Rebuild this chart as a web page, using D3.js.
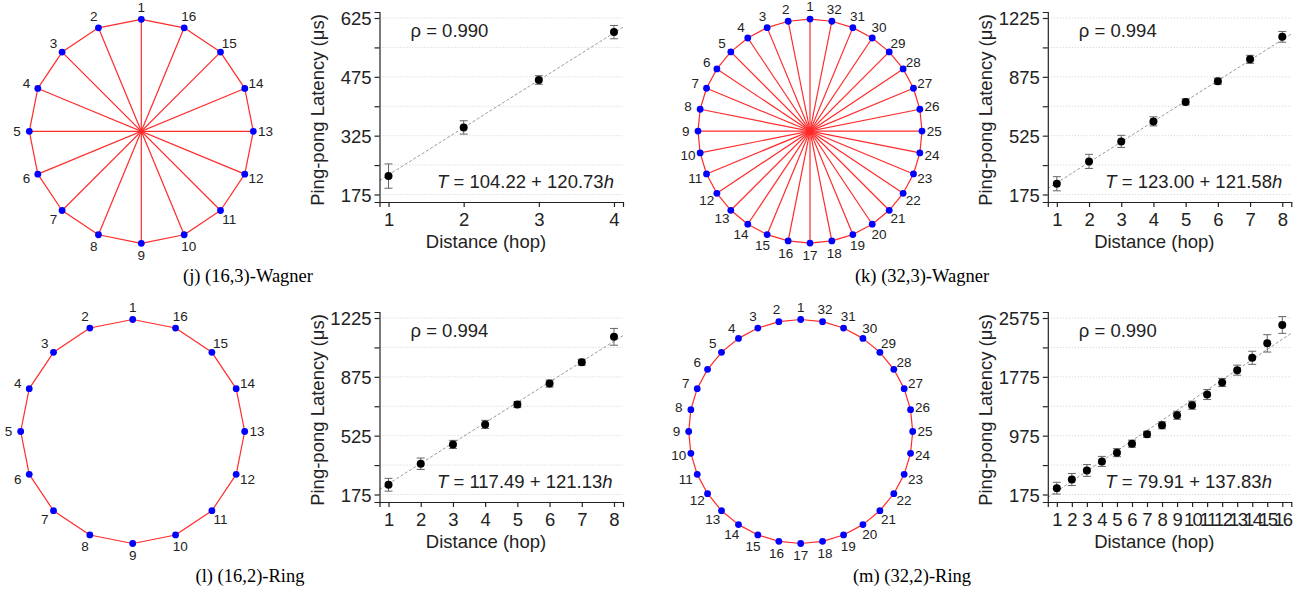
<!DOCTYPE html>
<html>
<head>
<meta charset="utf-8">
<script src="https://cdn.jsdelivr.net/npm/d3@7"></script>
<style>
body { margin: 0; background: #fff; }
svg { display: block; background: #fff; }
text { font-family: "Liberation Sans", Arial, sans-serif; fill: #222; }
.caption { font-family: "Liberation Serif", "Times New Roman", serif; fill: #000; }
</style>
</head>
<body>
<svg id="chart" width="1307" height="594"></svg>
<script>
// topology drawings: number of nodes and chord offset (0 means a plain ring)
const graphNodes = [16, 32, 16, 32];
const graphChord = [8, 16, 0, 0];

// ping-pong latency vs hop distance
const hopsJ = [1, 2, 3, 4];
const latJ = [222, 346, 467, 589];
const errJ = [31, 17, 11, 17];

const hopsK = [1, 2, 3, 4, 5, 6, 7, 8];
const latK = [239, 372, 491, 610, 726, 849, 979, 1113];
const errK = [42, 42, 36, 27, 18, 18, 24, 32];

const hopsL = [1, 2, 3, 4, 5, 6, 7, 8];
const latL = [233, 358, 473, 592, 710, 835, 962, 1113];
const errL = [38, 34, 24, 24, 18, 21, 18, 50];

const hopsM = [1, 2, 3, 4, 5, 6, 7, 8, 9, 10, 11, 12, 13, 14, 15, 16];
const latM = [261, 379, 502, 625, 744, 866, 993, 1116, 1252, 1389, 1534, 1698, 1866, 2034, 2230, 2480];
const errM = [80, 82, 80, 68, 55, 48, 41, 48, 55, 55, 68, 55, 68, 89, 118, 114];

const yTicksJ = [175, 250, 325, 400, 475, 550, 625];
const yTicksK = [175, 350, 525, 700, 875, 1050, 1225];
const yTicksL = [175, 350, 525, 700, 875, 1050, 1225];
const yTicksM = [175, 575, 975, 1375, 1775, 2175, 2575];

const rhoText = ["0.990", "0.994", "0.994", "0.990"];
const fitA = [104.22, 123.00, 117.49, 79.91];
const fitB = [120.73, 121.58, 121.13, 137.83];
const captions = ["(j) (16,3)-Wagner", "(k) (32,3)-Wagner", "(l) (16,2)-Ring", "(m) (32,2)-Ring"];

const series = [
  {hops: hopsJ, lat: latJ, err: errJ, ticks: yTicksJ},
  {hops: hopsK, lat: latK, err: errK, ticks: yTicksK},
  {hops: hopsL, lat: latL, err: errL, ticks: yTicksL},
  {hops: hopsM, lat: latM, err: errM, ticks: yTicksM}
];

// layout
const graphCenter = [[141.3, 131.3], [810, 131.1], [132.7, 431.5], [800.7, 431.5]];
const graphR = 112;
const plotX0 = [379.5, 1047.8];
const plotW = 243.5;
const captionX = [248, 922, 250, 912];

const svg = d3.select("#chart");

function drawGraph(i) {
    const n = graphNodes[i], chord = graphChord[i];
    const [cx, cy] = graphCenter[i];
    const g = svg.append("g");
    const ang = d3.scaleLinear().domain([0, n]).range([Math.PI / 2, Math.PI / 2 + 2 * Math.PI]);
    const pos = (k, r) => [cx + r * Math.cos(ang(k)), cy - r * Math.sin(ang(k))];

    const edges = [];
    for (let k = 0; k < n; k++) edges.push([k, (k + 1) % n]);
    if (chord > 0) for (let k = 0; k < chord; k++) edges.push([k, k + chord]);

    g.selectAll("line.edge")
        .data(edges)
        .enter()
        .append("line")
        .attr("x1", d => pos(d[0], graphR)[0])
        .attr("y1", d => pos(d[0], graphR)[1])
        .attr("x2", d => pos(d[1], graphR)[0])
        .attr("y2", d => pos(d[1], graphR)[1])
        .attr("stroke", "#ff2a2a")
        .attr("stroke-width", 1.2);

    const nodes = d3.range(n);
    g.selectAll("circle")
        .data(nodes)
        .enter()
        .append("circle")
        .attr("cx", k => pos(k, graphR)[0])
        .attr("cy", k => pos(k, graphR)[1])
        .attr("r", 3.4)
        .attr("fill", "#0000ff");

    g.selectAll("text")
        .data(nodes)
        .enter()
        .append("text")
        .attr("x", k => pos(k, graphR + 12.3)[0])
        .attr("y", k => pos(k, graphR + 12.3)[1])
        .attr("text-anchor", "middle")
        .attr("dominant-baseline", "central")
        .style("font-size", "13.5px")
        .style("fill", "#222")
        .text(k => k + 1);
}

function drawPlot(i) {
    const s = series[i];
    const row = Math.floor(i / 2), col = i % 2;
    const oy = row * 300;
    const x0 = plotX0[col];
    const n = s.hops.length;
    const pad = 0.04 * (n - 1);

    const g = svg.append("g").attr("transform", `translate(0,${oy})`);

    const x = d3.scaleLinear()
        .domain([1 - pad, n + pad])
        .range([x0, x0 + plotW]);

    const lo = s.ticks[0], hi = s.ticks[s.ticks.length - 1];
    const span = hi - lo;
    const y = d3.scaleLinear()
        .domain([lo - span * 7.5 / 176.5, hi + span * 6 / 176.5])
        .range([202, 12]);

    // grid
    g.selectAll("line.grid")
        .data(s.ticks)
        .enter()
        .append("line")
        .attr("x1", x0)
        .attr("x2", x0 + plotW)
        .attr("y1", d => y(d))
        .attr("y2", d => y(d))
        .attr("stroke", "#cfcfcf")
        .attr("stroke-width", 1)
        .attr("stroke-dasharray", "1,2");

    // fit line
    const xd = x.domain();
    g.append("line")
        .attr("x1", x(xd[0]))
        .attr("y1", y(fitA[i] + fitB[i] * xd[0]))
        .attr("x2", x(xd[1]))
        .attr("y2", y(fitA[i] + fitB[i] * xd[1]))
        .attr("stroke", "#999")
        .attr("stroke-width", 1)
        .attr("stroke-dasharray", "3,2");

    // error bars
    const pts = s.hops.map((h, k) => ({h: h, v: s.lat[k], e: s.err[k]}));
    const eb = g.selectAll("g.eb").data(pts).enter().append("g")
        .attr("stroke", "#666").attr("stroke-width", 1);
    eb.append("line")
        .attr("x1", d => x(d.h)).attr("x2", d => x(d.h))
        .attr("y1", d => y(d.v - d.e)).attr("y2", d => y(d.v + d.e));
    eb.append("line")
        .attr("x1", d => x(d.h) - 4).attr("x2", d => x(d.h) + 4)
        .attr("y1", d => y(d.v - d.e)).attr("y2", d => y(d.v - d.e));
    eb.append("line")
        .attr("x1", d => x(d.h) - 4).attr("x2", d => x(d.h) + 4)
        .attr("y1", d => y(d.v + d.e)).attr("y2", d => y(d.v + d.e));

    g.selectAll("circle")
        .data(pts)
        .enter()
        .append("circle")
        .attr("cx", d => x(d.h))
        .attr("cy", d => y(d.v))
        .attr("r", 4)
        .attr("fill", "#000");

    // axes
    const yAxis = g.append("g")
        .attr("transform", `translate(${x0},0)`)
        .call(d3.axisLeft(y)
            .tickValues(s.ticks)
            .tickSizeOuter(0)
            .tickSize(5)
            .tickPadding(3)
            .tickFormat((d, k) => k % 2 === 0 ? d : ""));

    const xAxis = g.append("g")
        .attr("transform", `translate(0,202)`)
        .call(d3.axisBottom(x)
            .tickValues(s.hops)
            .tickSizeOuter(0)
            .tickSize(5)
            .tickPadding(6)
            .tickFormat(d3.format("d")));

    [yAxis, xAxis].forEach(a => {
        a.selectAll("path, line").attr("stroke", "#222").attr("stroke-width", 1.2);
        a.selectAll("text")
            .style("font-size", "18.5px")
            .style("font-family", "'Liberation Sans', Arial, sans-serif")
            .attr("fill", "#222");
    });
    yAxis.selectAll("text").attr("dy", "0.36em");
    // 16 hop labels are packed tightly, as in the source figure
    if (n > 10) {
        xAxis.selectAll("text")
            .filter(d => d >= 10)
            .style("letter-spacing", "-1.6px");
    }

    // labels
    g.append("text")
        .attr("transform", `translate(${x0 - 56},110) rotate(-90)`)
        .attr("text-anchor", "middle")
        .style("font-size", "18.5px")
        .text("Ping-pong Latency (μs)");

    g.append("text")
        .attr("x", x0 + 106.5)
        .attr("y", 248)
        .attr("text-anchor", "middle")
        .style("font-size", "18.5px")
        .text("Distance (hop)");

    g.append("text")
        .attr("x", x0 + 31)
        .attr("y", 37)
        .style("font-size", "18.5px")
        .text("ρ = " + rhoText[i]);

    const t = g.append("text")
        .attr("x", x0 + 57.5)
        .attr("y", 188)
        .style("font-size", "18.5px");
    t.append("tspan").style("font-style", "italic").text("T");
    t.append("tspan").text(" = " + fitA[i].toFixed(2) + " + " + fitB[i].toFixed(2));
    t.append("tspan").style("font-style", "italic").text("h");

    // caption
    svg.append("text")
        .attr("class", "caption")
        .attr("x", captionX[i])
        .attr("y", 282 + oy)
        .attr("text-anchor", "middle")
        .style("font-size", "18.5px")
        .text(captions[i]);
}

for (let i = 0; i < 4; i++) {
    drawGraph(i);
    drawPlot(i);
}
</script>
</body>
</html>
